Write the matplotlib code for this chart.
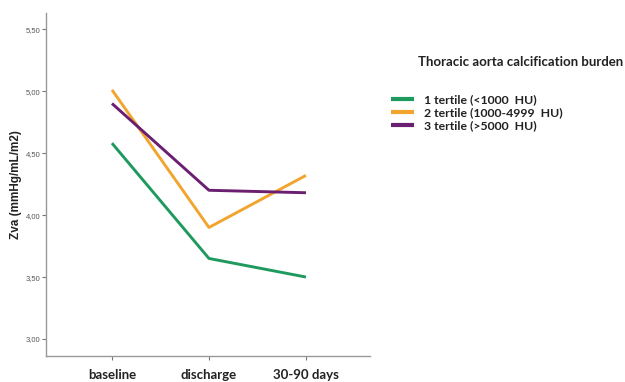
import matplotlib
matplotlib.use("Agg")
import matplotlib.pyplot as plt
from matplotlib.ticker import FuncFormatter

plt.rcParams['font.family'] = ['Lato', 'DejaVu Sans']

timepoints = ["baseline", "discharge", "30-90 days"]
tertile1 = [4.58, 3.65, 3.50]
tertile2 = [5.01, 3.90, 4.32]
tertile3 = [4.90, 4.20, 4.18]
series_labels = ["1 tertile (<1000  HU)", "2 tertile (1000-4999  HU)", "3 tertile (>5000  HU)"]
colors = ["#1f9a5e", "#f2a52e", "#6b1f70"]
yticks = [3.0, 3.5, 4.0, 4.5, 5.0, 5.5]

fig = plt.figure(figsize=(6.25, 3.82), dpi=100)
ax = fig.add_axes([0.0736, 0.068, 0.5184, 0.898])

x = range(len(timepoints))
for vals, lab, c in zip([tertile1, tertile2, tertile3], series_labels, colors):
    ax.plot(x, vals, color=c, lw=2.1, label=lab, solid_capstyle='butt')

ax.set_xlim(-0.68, 2.66)
ax.set_ylim(2.863, 5.63)
ax.set_xticks(list(x))
ax.set_xticklabels(timepoints, fontsize=9.5, fontweight='bold', color='#222222')
ax.set_yticks(yticks)
ax.yaxis.set_major_formatter(FuncFormatter(lambda v, p: f"{v:.2f}".replace(".", ",")))
ax.tick_params(axis='y', labelsize=5.5, labelcolor='#555555', length=3, width=0.8, color='#777777', pad=1)
for t in ax.get_yticklabels():
    t.set_family(['Liberation Sans Narrow', 'Liberation Sans'])
ax.tick_params(axis='x', length=3, width=0.8, color='#777777', pad=6)
for s in ['top', 'right']:
    ax.spines[s].set_visible(False)
for s in ['left', 'bottom']:
    ax.spines[s].set_color('#999999')
    ax.spines[s].set_linewidth(1.0)
ax.set_ylabel("Zva (mmHg/mL/m2)", fontsize=8.5, fontweight='bold', color='#222222',
              family=['Liberation Sans', 'DejaVu Sans'])
ax.yaxis.set_label_coords(-0.075, 0.5)

fig.text(0.669, 0.838, "Thoracic aorta calcification burden", fontsize=9.5, fontweight='bold',
         color='#222222', va='center', ha='left')
leg = fig.legend(loc='upper left', bbox_to_anchor=(0.618, 0.767), frameon=False,
                 prop={'size': 8.8, 'weight': 'bold'}, handlelength=1.9, handletextpad=0.8,
                 labelspacing=0.18, borderaxespad=0, labelcolor='#222222')
for h in leg.legend_handles:
    h.set_linewidth(3.0)

fig.savefig("out.png", dpi=100)
